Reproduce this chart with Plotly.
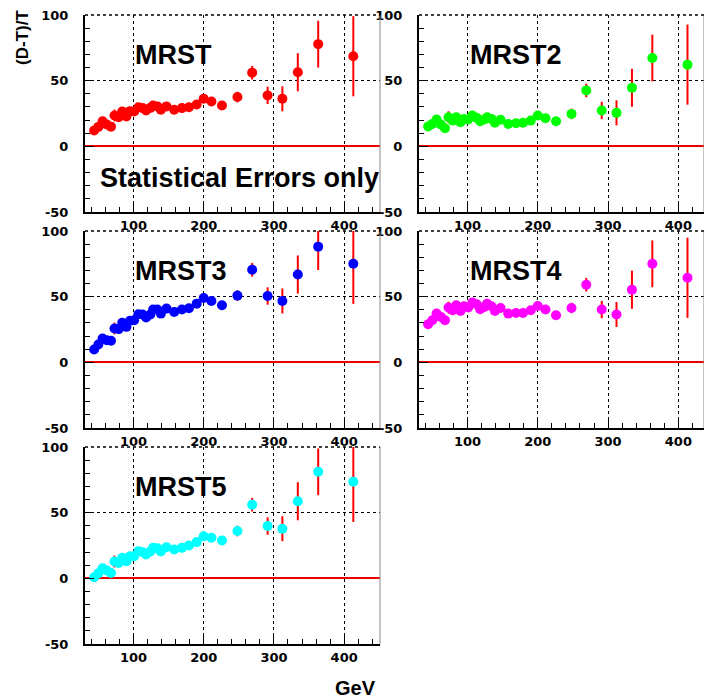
import plotly.graph_objects as go

# ---------------- data ----------------
gev = [44, 50, 56, 62, 68, 73, 79, 84, 90, 95, 101, 107, 113, 118, 124, 128, 134,
       139, 147, 158, 169, 179, 190, 200, 211, 226, 248, 269, 291, 312, 334, 363, 413]

stat_err = [1.0, 1.0, 1.2, 1.2, 1.3, 4.5, 1.5, 1.5, 1.5, 1.6, 1.6, 1.7, 1.7, 1.8, 1.8, 1.9, 1.9,
            2.0, 2.0, 2.1, 2.2, 2.3, 2.4, 2.5, 2.6, 2.8, 4.0, 5.2, 6.6, 9.5, 14.5, 17.8, 30.5]

mrst = [12.0, 14.8, 19.1, 16.6, 15.0, 23.5, 22.2, 26.5, 22.7, 26.8, 26.5, 29.8, 29.1, 27.3,
        29.3, 31.1, 30.4, 27.8, 30.4, 27.8, 29.1, 29.8, 31.9, 36.2, 34.2, 31.1, 37.5,
        56.1, 38.8, 36.2, 56.4, 77.8, 68.6]
mrst2 = [15.1, 17.1, 20.4, 16.6, 13.8, 22.2, 19.6, 22.2, 18.4, 20.9, 20.4, 23.5, 21.7, 19.1,
         20.4, 22.2, 20.9, 17.9, 20.2, 17.1, 17.6, 17.9, 19.6, 23.5, 21.4, 19.1, 24.7,
         42.6, 27.3, 25.5, 44.6, 67.3, 62.2]
mrst3 = [9.8, 13.6, 18.2, 16.9, 16.4, 25.8, 25.3, 30.1, 27.0, 31.6, 32.1, 36.6, 36.4, 34.1,
         36.4, 40.2, 40.2, 37.1, 40.9, 38.4, 40.2, 41.2, 44.7, 49.0, 46.7, 43.4, 50.8,
         70.5, 50.5, 46.7, 66.9, 88.1, 75.0]
mrst4 = [29.0, 32.1, 37.1, 34.6, 32.1, 41.7, 39.6, 43.4, 39.1, 42.7, 41.7, 45.5, 44.2, 40.4,
         42.2, 44.7, 42.7, 39.1, 41.4, 37.1, 37.6, 37.6, 39.6, 42.9, 40.2, 35.9, 41.4,
         59.1, 40.2, 36.4, 55.3, 75.0, 64.4]
mrst5 = [0.8, 3.8, 7.7, 5.9, 4.1, 12.8, 11.7, 15.6, 13.0, 16.8, 16.8, 20.7, 19.9, 18.1,
         20.4, 23.2, 23.0, 20.4, 23.7, 21.9, 23.2, 25.0, 27.6, 32.1, 30.9, 28.8, 36.0,
         56.1, 39.8, 37.8, 58.7, 81.1, 73.5]

panel_names = ["MRST", "MRST2", "MRST3", "MRST4", "MRST5"]
panel_values = [mrst, mrst2, mrst3, mrst4, mrst5]
panel_colors = ["#ff0000", "#00ff00", "#0000ff", "#ff00ff", "#00ffff"]

y_ticks = [-50, 0, 50, 100]
x_ticks = [100, 200, 300, 400]

# ---------------- layout geometry (pixels) ----------------
W, H = 704, 700
# (left, right, top, bottom, x-range)
boxes = [
    (85, 380, 15, 212, [31, 451]),
    (419, 704, 15, 212, [31, 436.5]),
    (85, 380, 231, 428, [31, 451]),
    (419, 704, 231, 428, [31, 436.5]),
    (85, 380, 447, 644, [31, 451]),
]

fig = go.Figure()
tick_font = dict(family="DejaVu Sans", size=13, color="black", weight="bold")
label_font = dict(family="Liberation Sans, Arial", size=27, color="black", weight="bold")

layout = dict(width=W, height=H, margin=dict(l=0, r=0, t=0, b=0, autoexpand=False),
              paper_bgcolor="white", plot_bgcolor="white", showlegend=False)
shapes = []
annotations = []

for i, (name, vals, col, box) in enumerate(zip(panel_names, panel_values, panel_colors, boxes)):
    l, r, t, b, xr = box
    sfx = "" if i == 0 else str(i + 1)
    xa = "xaxis" + sfx
    ya = "yaxis" + sfx
    layout[xa] = dict(
        domain=[l / W, r / W], range=xr, anchor="y" + sfx, automargin=False,
        tickmode="array", tickvals=x_ticks, ticktext=[str(v) for v in x_ticks],
        ticks="inside", ticklen=9, tickwidth=1, tickcolor="black",
        minor=dict(dtick=20, tick0=0, ticks="inside", ticklen=5, tickcolor="black", showgrid=False),
        showline=True, linecolor="black", linewidth=2,
        showgrid=True, gridcolor="black", griddash="dot", gridwidth=1,
        zeroline=False, tickfont=tick_font, ticklabelstandoff=0,
    )
    layout[ya] = dict(
        domain=[1 - b / H, 1 - t / H], range=[-50, 100], anchor="x" + sfx, automargin=False,
        tickmode="array", tickvals=y_ticks, ticktext=[str(v) for v in y_ticks],
        ticks="inside", ticklen=9, tickwidth=1, tickcolor="black",
        minor=dict(dtick=10, tick0=0, ticks="inside", ticklen=5, tickcolor="black", showgrid=False),
        showline=True, linecolor="black", linewidth=2,
        showgrid=True, gridcolor="black", griddash="dot", gridwidth=1,
        zeroline=True, zerolinecolor="#ee0000", zerolinewidth=2,
        tickfont=tick_font, ticklabelstandoff=12,
    )
    fig.add_trace(go.Scatter(
        x=gev, y=vals, mode="markers", xaxis="x" + sfx, yaxis="y" + sfx,
        marker=dict(color=col, size=10, line=dict(width=0)),
        error_y=dict(type="data", array=stat_err, visible=True, color="#ff0000",
                     thickness=2, width=0),
        cliponaxis=True,
    ))
    # thin grey right border
    shapes.append(dict(type="line", xref="x" + sfx + " domain", yref="y" + sfx + " domain",
                       x0=1, x1=1, y0=0, y1=1, line=dict(color="#888888", width=1)))
    # dotted top border
    shapes.append(dict(type="line", xref="x" + sfx + " domain", yref="y" + sfx + " domain",
                       x0=0, x1=1, y0=1, y1=1, line=dict(color="black", width=1.5, dash="dot")))
    # panel label
    annotations.append(dict(text=name, xref="x" + sfx, yref="paper",
                            x=100, y=1 - (t + 40) / H, xanchor="left", yanchor="middle",
                            showarrow=False, font=label_font))

annotations.append(dict(text="Statistical Errors only", xref="paper", yref="paper",
                        x=98 / W, y=1 - 178 / H, xanchor="left", yanchor="middle",
                        showarrow=False, font=label_font))
annotations.append(dict(text="GeV", xref="paper", yref="paper",
                        x=378 / W, y=1 - 688 / H, xanchor="right", yanchor="middle",
                        showarrow=False,
                        font=dict(family="Liberation Sans, Arial", size=20, color="black", weight="bold")))
annotations.append(dict(text="(D-T)/T", xref="paper", yref="paper",
                        x=23 / W, y=1 - 38 / H, xanchor="center", yanchor="middle",
                        textangle=-90, showarrow=False,
                        font=dict(family="Liberation Sans, Arial", size=17, color="black", weight="bold")))

layout["shapes"] = shapes
layout["annotations"] = annotations
fig.update_layout(**layout)
fig.write_html("out.html")
